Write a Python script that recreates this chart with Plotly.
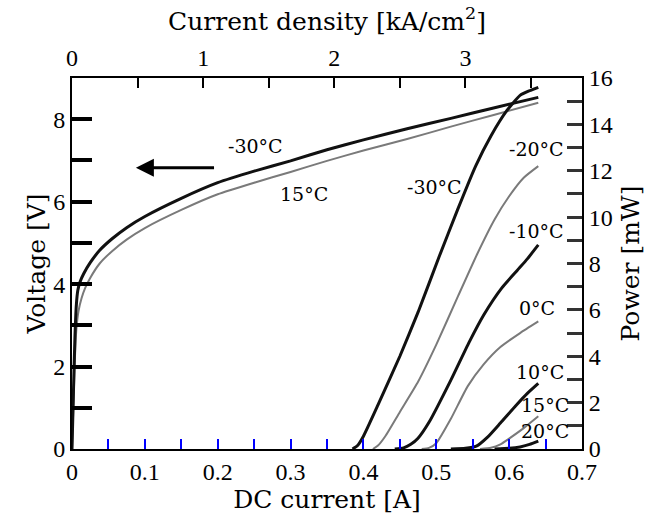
import plotly.graph_objects as go
import numpy as np

# ---- data ----
I_v30 = [0, 0.002, 0.004, 0.006, 0.008, 0.011, 0.016, 0.025, 0.038, 0.055, 0.075, 0.10, 0.15, 0.20, 0.25, 0.30, 0.35, 0.40, 0.46, 0.52, 0.58, 0.64]
V_m30 = [0, 1.4, 2.7, 3.5, 3.85, 4.05, 4.25, 4.52, 4.82, 5.10, 5.37, 5.64, 6.08, 6.46, 6.74, 6.99, 7.26, 7.50, 7.77, 8.02, 8.28, 8.53]
I_v15 = [0, 0.002, 0.004, 0.006, 0.009, 0.013, 0.018, 0.025, 0.038, 0.055, 0.075, 0.10, 0.15, 0.20, 0.25, 0.30, 0.35, 0.40, 0.46, 0.52, 0.58, 0.64]
V_p15 = [0, 1.1, 2.2, 2.9, 3.35, 3.65, 3.90, 4.15, 4.50, 4.80, 5.08, 5.36, 5.80, 6.18, 6.46, 6.72, 6.99, 7.24, 7.52, 7.82, 8.11, 8.40]

I_pm30 = [0.385, 0.392, 0.40, 0.42, 0.45, 0.475, 0.504, 0.529, 0.554, 0.575, 0.597, 0.615, 0.628, 0.640]
P_m30 = [0, 0.15, 0.55, 1.9, 4.0, 5.9, 8.3, 10.3, 12.2, 13.5, 14.6, 15.25, 15.45, 15.6]
I_pm20 = [0.413, 0.42, 0.43, 0.45, 0.475, 0.50, 0.53, 0.556, 0.58, 0.60, 0.62, 0.640]
P_m20 = [0, 0.15, 0.55, 1.6, 2.9, 4.5, 6.6, 8.4, 9.9, 10.9, 11.7, 12.2]
I_pm10 = [0.443, 0.455, 0.465, 0.4746, 0.49, 0.52, 0.545, 0.5655, 0.59, 0.611, 0.625, 0.640]
P_m10 = [0, 0.05, 0.2, 0.45, 1.15, 2.97, 4.6, 5.8, 6.95, 7.7, 8.2, 8.8]
I_p0 = [0.48, 0.49, 0.50, 0.52, 0.543, 0.565, 0.588, 0.615, 0.640]
P_p0 = [0, 0.05, 0.25, 1.3, 2.7, 3.65, 4.4, 5.0, 5.5]
I_p10 = [0.52, 0.54, 0.555, 0.57, 0.588, 0.61, 0.625, 0.640]
P_p10 = [0, 0.03, 0.12, 0.5, 1.12, 1.9, 2.4, 2.83]
I_p15 = [0.56, 0.575, 0.588, 0.60, 0.62, 0.640]
P_p15 = [0, 0.05, 0.2, 0.45, 0.9, 1.41]
I_p20 = [0.58, 0.60, 0.615, 0.628, 0.640]
P_p20 = [0, 0.03, 0.09, 0.2, 0.34]

x_ticks = [0, 0.05, 0.1, 0.15, 0.2, 0.25, 0.3, 0.35, 0.4, 0.45, 0.5, 0.55, 0.6, 0.65, 0.7]
x_labels = ["0", "", "0.1", "", "0.2", "", "0.3", "", "0.4", "", "0.5", "", "0.6", "", "0.7"]
top_ticks = [0, 0.5, 1, 1.5, 2, 2.5, 3, 3.5]
top_labels = ["0", "", "1", "", "2", "", "3", ""]
v_ticks = [0, 1, 2, 3, 4, 5, 6, 7, 8]
v_labels = ["0", "", "2", "", "4", "", "6", "", "8"]
p_ticks = list(range(0, 17))
p_labels = [str(v) if v % 2 == 0 else "" for v in p_ticks]

AMP_PER_KA_CM2 = 0.18
X_MAX = 0.7

BLACK = "#111111"
GRAY = "#7a7a7a"
FONT = "Liberation Serif"
TFONT = "DejaVu Serif"

fig = go.Figure()

def add(x, y, color, width, yaxis="y", xaxis="x"):
    fig.add_trace(go.Scatter(x=x, y=y, mode="lines", xaxis=xaxis, yaxis=yaxis,
                             line=dict(color=color, width=width, shape="spline", smoothing=0.5),
                             hoverinfo="skip", showlegend=False))

add(list(np.array(I_v30) / AMP_PER_KA_CM2), V_m30, "rgba(0,0,0,0)", 1, "y", "x2")
add(I_v15, V_p15, GRAY, 2)
add(I_v30, V_m30, BLACK, 3)
add(I_pm30, P_m30, BLACK, 3, "y2")
add(I_pm20, P_m20, GRAY, 2, "y2")
add(I_pm10, P_m10, BLACK, 3, "y2")
add(I_p0, P_p0, GRAY, 2, "y2")
add(I_p10, P_p10, BLACK, 3, "y2")
add(I_p15, P_p15, GRAY, 2, "y2")
add(I_p20, P_p20, BLACK, 3, "y2")

tickfont = dict(family=FONT, size=24, color="black")
titlefont = dict(family=TFONT, size=25, color="black")
base = dict(showline=True, linewidth=2, linecolor="black", ticks="inside",
            showgrid=False, zeroline=False, tickfont=tickfont, tickmode="array")

fig.update_layout(
    width=652, height=516,
    margin=dict(l=72, r=67, t=78, b=63),
    paper_bgcolor="white", plot_bgcolor="white",
    xaxis=dict(range=[0, X_MAX], tickvals=x_ticks, ticktext=x_labels,
               ticklen=10, tickwidth=2, tickcolor="blue",
               title=dict(text="DC current [A]", font=titlefont, standoff=2), **base),
    xaxis2=dict(range=[0, X_MAX / AMP_PER_KA_CM2], overlaying="x", side="top", anchor="y",
                tickvals=top_ticks, ticktext=top_labels,
                ticklen=10, tickwidth=2, tickcolor="black", layer="below traces",
                title=dict(text="Current density [kA/cm<sup>2</sup>]", font=titlefont, standoff=8), **base),
    yaxis=dict(range=[0, 9], tickvals=v_ticks, ticktext=v_labels,
               ticklen=20, tickwidth=4, tickcolor="black",
               title=dict(text="Voltage [V]", font=titlefont, standoff=0), **base),
    yaxis2=dict(range=[0, 16], overlaying="y", side="right", anchor="x",
                tickvals=p_ticks, ticktext=p_labels,
                ticklen=15, tickwidth=3, tickcolor="#333333",
                title=dict(text="Power [mW]", font=titlefont, standoff=10), **base),
)

lab = dict(family=TFONT, size=19, color="black")
def label(text, x, y, yref="y"):
    fig.add_annotation(x=x, y=y, xref="x", yref=yref, text=text, showarrow=False, font=lab)

label("-30°C", 0.252, 7.34)
label("15°C", 0.318, 6.18)
label("-30°C", 0.497, 11.29, "y2")
label("-20°C", 0.638, 12.93, "y2")
label("-10°C", 0.638, 9.39, "y2")
label("0°C", 0.638, 6.1, "y2")
label("10°C", 0.642, 3.33, "y2")
label("15°C", 0.649, 1.88, "y2")
label("20°C", 0.649, 0.77, "y2")

fig.add_annotation(x=0.0877, y=6.82, ax=0.197, ay=6.82, xref="x", yref="y", axref="x", ayref="y",
                   text="", showarrow=True, arrowhead=2, arrowsize=1.2, arrowwidth=3, arrowcolor="black")

fig.write_html("out.html")
